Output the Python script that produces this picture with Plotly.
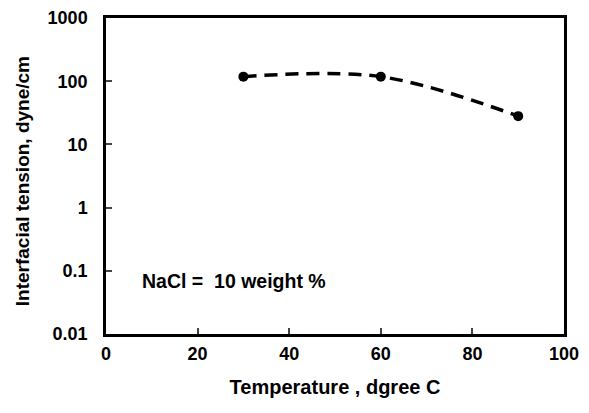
import plotly.graph_objects as go

temperature = [30, 60, 90]
tension = [118, 118, 28]
x_ticks = [0, 20, 40, 60, 80, 100]
y_ticks = [0.01, 0.1, 1, 10, 100, 1000]
y_tick_labels = ["0.01", "0.1", "1", "10", "100", "1000"]

font_family = "Liberation Sans, Arial, sans-serif"

fig = go.Figure()
fig.add_trace(go.Scatter(
    x=temperature, y=tension, mode="lines+markers",
    line=dict(color="black", width=3.5, dash="13px,8px", shape="spline", smoothing=1),
    marker=dict(color="black", size=10),
    showlegend=False,
))

fig.add_annotation(
    x=27.9, y=-1.16, xref="x", yref="y",
    text="<b>NaCl =  10 weight %</b>", showarrow=False,
    font=dict(family=font_family, size=19.5, color="black"),
)

# y-axis title placed as a rotated annotation
fig.add_annotation(
    x=-0.183, y=0.484, xref="paper", yref="paper", textangle=-90,
    xanchor="center", yanchor="middle",
    text="<b>Interfacial tension, dyne/cm</b>", showarrow=False,
    font=dict(family=font_family, size=19, color="black"),
)

fig.update_xaxes(
    range=[0, 100], tickvals=x_ticks, ticktext=["<b>%d</b>" % t for t in x_ticks],
    ticks="inside", ticklen=6, tickwidth=2, ticklabelstandoff=2, automargin=False,
    showline=True, linecolor="black", linewidth=2.5, mirror=True, showgrid=False,
    zeroline=False,
    tickfont=dict(family=font_family, size=18, color="black"),
    title=dict(text="<b>Temperature , dgree C</b>", font=dict(family=font_family, size=20, color="black"), standoff=17),
)
fig.update_yaxes(
    type="log", range=[-2, 3], tickvals=y_ticks, ticktext=["<b>%s</b>" % t for t in y_tick_labels],
    ticks="inside", ticklen=6, tickwidth=2, ticklabelstandoff=12, automargin=False,
    showline=True, linecolor="black", linewidth=2.5, mirror=True, showgrid=False,
    zeroline=False,
    tickfont=dict(family=font_family, size=18, color="black"),
)

# page body has an 8px margin, so the figure is made 8px smaller and shifted
fig.update_layout(
    width=581, height=405,
    margin=dict(l=98, r=25, t=10, b=79),
    plot_bgcolor="white", paper_bgcolor="white",
)

fig.write_html("out.html")
